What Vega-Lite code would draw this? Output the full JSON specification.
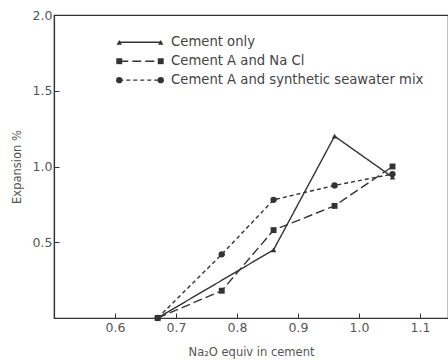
{
  "$schema": "https://vega.github.io/schema/vega-lite/v6.json",
  "autosize": "none",
  "width": 394,
  "height": 303,
  "padding": {"left": 54, "top": 15, "right": 0, "bottom": 42},
  "background": "white",
  "config": {
    "view": {"stroke": "#333", "strokeWidth": 1.2},
    "font": "DejaVu Sans",
    "axis": {"domainColor": "#333", "tickColor": "#333", "labelColor": "#555", "titleColor": "#555", "labelFont": "DejaVu Sans", "titleFont": "DejaVu Sans", "labelFontSize": 12.5, "titleFontSize": 11.5, "titleFontWeight": "normal", "grid": false, "tickSize": -5, "domainWidth": 1.2}
  },
  "datasets": {
    "main": [
      {"series": "Cement only", "x": 0.67, "y": 0.0},
      {"series": "Cement only", "x": 0.86, "y": 0.45},
      {"series": "Cement only", "x": 0.96, "y": 1.2},
      {"series": "Cement only", "x": 1.055, "y": 0.93},
      {"series": "Cement A and NaCl", "x": 0.67, "y": 0.0},
      {"series": "Cement A and NaCl", "x": 0.775, "y": 0.18},
      {"series": "Cement A and NaCl", "x": 0.86, "y": 0.58},
      {"series": "Cement A and NaCl", "x": 0.96, "y": 0.74},
      {"series": "Cement A and NaCl", "x": 1.055, "y": 1.0},
      {"series": "Cement A and synthetic seawater mix", "x": 0.67, "y": 0.0},
      {"series": "Cement A and synthetic seawater mix", "x": 0.775, "y": 0.42},
      {"series": "Cement A and synthetic seawater mix", "x": 0.86, "y": 0.78},
      {"series": "Cement A and synthetic seawater mix", "x": 0.96, "y": 0.875},
      {"series": "Cement A and synthetic seawater mix", "x": 1.055, "y": 0.95}
    ],
    "leg": [
      {"series": "Cement only", "x": 0.607, "y": 1.82},
      {"series": "Cement only", "x": 0.675, "y": 1.82},
      {"series": "Cement A and NaCl", "x": 0.607, "y": 1.695},
      {"series": "Cement A and NaCl", "x": 0.675, "y": 1.695},
      {"series": "Cement A and synthetic seawater mix", "x": 0.607, "y": 1.57},
      {"series": "Cement A and synthetic seawater mix", "x": 0.675, "y": 1.57}
    ],
    "legtext": [
      {"label": "Cement only", "x": 0.692, "y": 1.82},
      {"label": "Cement A and Na Cl", "x": 0.692, "y": 1.695},
      {"label": "Cement A and synthetic seawater mix", "x": 0.692, "y": 1.57}
    ]
  },
  "layer": [
    {
      "data": {"name": "main"},
      "mark": {"type": "line", "color": "#333", "strokeWidth": 1.4},
      "encoding": {
        "x": {"field": "x", "type": "quantitative", "scale": {"domain": [0.5, 1.146], "nice": false, "zero": false}, "axis": {"values": [0.6, 0.7, 0.8, 0.9, 1.0, 1.1], "format": ".1f", "title": "Na₂O equiv in cement", "labelPadding": 8, "titlePadding": 13}},
        "y": {"field": "y", "type": "quantitative", "scale": {"domain": [0, 2], "nice": false}, "axis": {"values": [0.5, 1.0, 1.5, 2.0], "format": ".1f", "title": "Expansion %", "labelPadding": 7, "titlePadding": 10}},
        "strokeDash": {"field": "series", "type": "nominal", "scale": {"domain": ["Cement only", "Cement A and NaCl", "Cement A and synthetic seawater mix"], "range": [[1, 0], [9, 4], [4, 3]]}, "legend": null}
      }
    },
    {
      "data": {"name": "main"},
      "mark": {"type": "point", "filled": true, "color": "#333", "opacity": 1},
      "encoding": {
        "x": {"field": "x", "type": "quantitative"},
        "y": {"field": "y", "type": "quantitative"},
        "shape": {"field": "series", "type": "nominal", "scale": {"domain": ["Cement only", "Cement A and NaCl", "Cement A and synthetic seawater mix"], "range": ["triangle-up", "square", "circle"]}, "legend": null},
        "size": {"field": "series", "type": "nominal", "scale": {"domain": ["Cement only", "Cement A and NaCl", "Cement A and synthetic seawater mix"], "range": [30, 40, 50]}, "legend": null}
      }
    },
    {
      "data": {"name": "leg"},
      "mark": {"type": "line", "color": "#333", "strokeWidth": 1.4},
      "encoding": {
        "x": {"field": "x", "type": "quantitative"},
        "y": {"field": "y", "type": "quantitative"},
        "detail": {"field": "series"},
        "strokeDash": {"field": "series", "type": "nominal", "legend": null}
      }
    },
    {
      "data": {"name": "leg"},
      "mark": {"type": "point", "filled": true, "color": "#333", "opacity": 1},
      "encoding": {
        "x": {"field": "x", "type": "quantitative"},
        "y": {"field": "y", "type": "quantitative"},
        "shape": {"field": "series", "type": "nominal", "legend": null},
        "size": {"field": "series", "type": "nominal", "legend": null}
      }
    },
    {
      "data": {"name": "legtext"},
      "mark": {"type": "text", "align": "left", "baseline": "middle", "fontSize": 13.2, "color": "#444", "font": "DejaVu Sans"},
      "encoding": {
        "x": {"field": "x", "type": "quantitative"},
        "y": {"field": "y", "type": "quantitative"},
        "text": {"field": "label"}
      }
    }
  ]
}
